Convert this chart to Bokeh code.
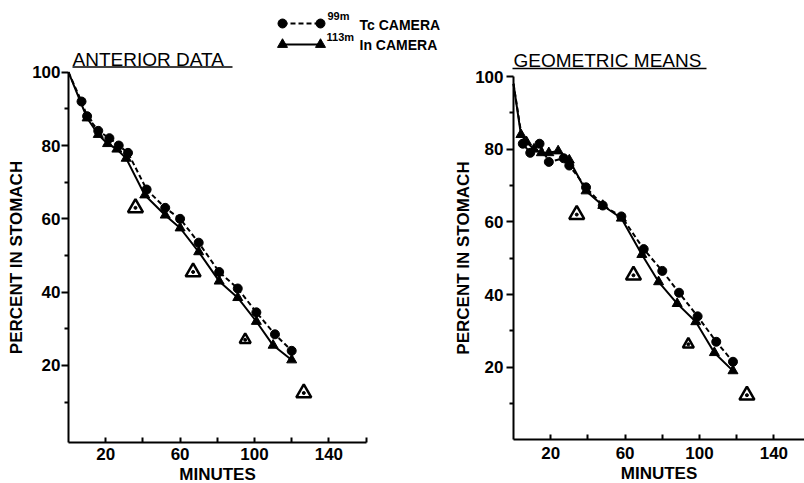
from bokeh.plotting import figure
from bokeh.models import FixedTicker, Label, Range1d
from bokeh.layouts import row
from bokeh.embed import file_html
from bokeh.resources import INLINE

# ---------------- data ----------------
# Anterior data panel
ant_tc_min = [0, 7, 10, 16, 22, 27, 32, 42, 52, 60, 70, 81, 91, 101, 111, 120]
ant_tc_pct = [100, 92, 88, 84, 82, 80, 78, 68, 63, 60, 53.5, 45.5, 41, 34.5, 28.5, 24]
ant_in_min = [0, 10, 16, 21, 26, 31, 41, 52, 60, 70, 81, 91, 101, 110, 120]
ant_in_pct = [100, 87.5, 83, 80.5, 79, 76.5, 66.5, 61, 57.5, 51, 43, 38.5, 32, 25.5, 21.5]
ant_open_min = [36, 67, 126.5]
ant_open_pct = [63, 45.5, 12.5]
ant_small_min = [95]
ant_small_pct = [27]

# Geometric means panel
geo_tc_min = [0, 5, 9, 14, 19, 27, 30, 39, 48, 58, 70, 80, 89, 99, 109, 118]
geo_tc_pct = [98, 81.5, 79, 81.5, 76.5, 77.5, 75.5, 69.5, 64.5, 61.5, 52.5, 46.5, 40.5, 34, 27, 21.5]
geo_in_min = [0, 4, 7, 11, 15, 19, 24, 30, 39, 48, 58, 69, 78, 88, 98, 108, 118]
geo_in_pct = [98, 84, 82, 80, 79, 79, 79.5, 77, 68.5, 64.5, 61, 51, 43.5, 37.5, 32.5, 24, 19]
geo_open_min = [34, 64.5, 125.5]
geo_open_pct = [62, 45.3, 12.3]
geo_small_min = [94]
geo_small_pct = [26.3]

x_major = [20, 60, 100, 140]
x_minor = [40, 80, 120, 160]
y_major = [20, 40, 60, 80, 100]
y_minor = [10, 30, 50, 70, 90]

title_left = "ANTERIOR DATA"
title_right = "GEOMETRIC MEANS"
x_title = "MINUTES"
y_title = "PERCENT IN STOMACH"

FONT = "Liberation Sans"
H = 483


def make_panel(W, x0px, sx, y0px, sy, xaxis_px, xaxis_end, ytick_standoff, ylabel_standoff,
               xtick_standoff, xlabel_standoff):
    """Frame covers the whole canvas; axes are pinned with fixed_location."""
    x_start = -x0px / sx
    x_end = (W - x0px) / sx
    y_start = (y0px - H) / sy
    y_end = y0px / sy
    x_axis_at = (y0px - xaxis_px) / sy
    p = figure(width=W, height=H, x_range=Range1d(x_start, x_end), y_range=Range1d(y_start, y_end),
               output_backend="svg", toolbar_location=None,
               min_border_left=0, min_border_right=0, min_border_top=0, min_border_bottom=0)
    p.outline_line_color = None
    p.grid.visible = False
    p.background_fill_color = "white"
    p.border_fill_color = "white"

    xa = p.xaxis[0]
    xa.fixed_location = x_axis_at
    xa.ticker = FixedTicker(ticks=x_major, minor_ticks=x_minor)
    xa.bounds = (0, xaxis_end)
    xa.axis_line_width = 2
    xa.major_tick_line_width = 2
    xa.minor_tick_line_width = 2
    xa.major_tick_in = 5
    xa.major_tick_out = 0
    xa.minor_tick_in = 5
    xa.minor_tick_out = 0
    xa.major_label_standoff = xtick_standoff
    xa.major_label_text_font = FONT
    xa.major_label_text_font_style = "bold"
    xa.major_label_text_font_size = "17px"
    xa.major_label_text_color = "black"
    xa.axis_label = x_title
    xa.axis_label_standoff = xlabel_standoff
    xa.axis_label_text_font = FONT
    xa.axis_label_text_font_style = "bold"
    xa.axis_label_text_font_size = "17px"
    xa.axis_label_text_color = "black"

    ya = p.yaxis[0]
    ya.fixed_location = 0
    ya.ticker = FixedTicker(ticks=y_major, minor_ticks=y_minor)
    ya.bounds = (x_axis_at, 100)
    ya.axis_line_width = 2
    ya.major_tick_line_width = 2
    ya.minor_tick_line_width = 2
    ya.major_tick_in = 0
    ya.major_tick_out = 7
    ya.minor_tick_in = 0
    ya.minor_tick_out = 4
    ya.major_label_standoff = ytick_standoff
    ya.major_label_text_font = FONT
    ya.major_label_text_font_style = "bold"
    ya.major_label_text_font_size = "17px"
    ya.major_label_text_color = "black"
    ya.axis_label = y_title
    ya.axis_label_standoff = ylabel_standoff
    ya.axis_label_text_font = FONT
    ya.axis_label_text_font_style = "bold"
    ya.axis_label_text_font_size = "17px"
    ya.axis_label_text_color = "black"

    dx = lambda px: (px - x0px) / sx
    dy = lambda py: (y0px - py) / sy
    return p, dx, dy


def draw_data(p, tcx, tcy, inx, iny, opx, opy, smx, smy):
    p.line(tcx, tcy, line_color="black", line_width=2, line_dash="5 3")
    p.scatter(tcx[1:], tcy[1:], marker="circle", size=9, color="black")
    p.line(inx, iny, line_color="black", line_width=2)
    p.scatter(inx[1:], iny[1:], marker="triangle", size=10, color="black")
    p.scatter(opx, opy, marker="triangle", size=15, fill_color="white",
              line_color="black", line_width=2.5)
    p.scatter(opx, opy, marker="circle", size=3, color="black")
    p.scatter(smx, smy, marker="triangle", size=11, fill_color="white",
              line_color="black", line_width=2.5)
    p.scatter(smx, smy, marker="circle", size=3, color="black")


def add_text(p, x, y, text, size, style="normal"):
    p.add_layout(Label(x=x, y=y, text=text, text_font=FONT, text_font_size=f"{size}px",
                       text_align="left", text_baseline="alphabetic",
                       text_color="black", text_font_style=style))


SHIFT = 0.25  # empirical baseline correction (fraction of font size)

# ---------------- left panel ----------------
pl, lx, ly = make_panel(450, 68, 1.86, 438.3, 3.666, 442, 160,
                        ytick_standoff=1, ylabel_standoff=3,
                        xtick_standoff=5, xlabel_standoff=2)
draw_data(pl, ant_tc_min, ant_tc_pct, ant_in_min, ant_in_pct,
          ant_open_min, ant_open_pct, ant_small_min, ant_small_pct)
add_text(pl, lx(72), ly(64 - SHIFT * 19), title_left, 19)
pl.segment(x0=[lx(72)], y0=[ly(66.5)], x1=[lx(232)], y1=[ly(66.5)], line_color="black", line_width=1.5)

# legend (drawn in the left panel's top area)
pl.line([lx(282), lx(320)], [ly(23), ly(23)], line_color="black", line_width=2, line_dash="5 3")
pl.scatter([lx(282), lx(320)], [ly(23), ly(23)], marker="circle", size=9, color="black")
pl.line([lx(282), lx(320)], [ly(44), ly(44)], line_color="black", line_width=2)
pl.scatter([lx(282), lx(320)], [ly(44), ly(44)], marker="triangle", size=10, color="black")
add_text(pl, lx(327), ly(18 - SHIFT * 11), "99m", 11, "bold")
add_text(pl, lx(359), ly(28 - SHIFT * 14), "Tc CAMERA", 14, "bold")
add_text(pl, lx(326), ly(39.5 - SHIFT * 11), "113m", 11, "bold")
add_text(pl, lx(359), ly(48 - SHIFT * 14), "In CAMERA", 14, "bold")

# ---------------- right panel ----------------
pr, rx, ry = make_panel(354, 63, 1.86, 439.4, 3.634, 439.4, 160,
                        ytick_standoff=3, ylabel_standoff=-1,
                        xtick_standoff=7, xlabel_standoff=2)
draw_data(pr, geo_tc_min, geo_tc_pct, geo_in_min, geo_in_pct,
          geo_open_min, geo_open_pct, geo_small_min, geo_small_pct)
add_text(pr, rx(63), ry(65 - SHIFT * 19), title_right, 19)
pr.segment(x0=[rx(62)], y0=[ry(68)], x1=[rx(256)], y1=[ry(68)], line_color="black", line_width=1.5)

layout = row(pl, pr, spacing=0)
open("out.html", "w").write(file_html(layout, INLINE))
